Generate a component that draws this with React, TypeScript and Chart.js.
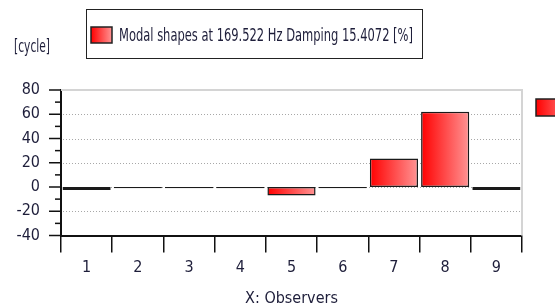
import React, { useEffect, useRef } from "react";
import { Chart, registerables } from "chart.js";

Chart.register(...registerables);

const categories = ["1", "2", "3", "4", "5", "6", "7", "8", "9"];
const values = [-2.5, -1, -1, -1, -7, -1, 23.5, 62, -2.5];
const yMin = -40;
const yMax = 80;
const legendLabel = "Modal shapes at 169.522 Hz Damping 15.4072 [%]";
const yUnit = "[cycle]";
const xTitle = "X: Observers";

const FONT = '"DejaVu Sans Condensed", "Liberation Sans Narrow", "Liberation Sans", sans-serif';
const TEXT = "#1e1e3a";

function redGrad(ctx: CanvasRenderingContext2D, x0: number, x1: number) {
  const g = ctx.createLinearGradient(x0, 0, x1, 0);
  g.addColorStop(0, "#ff0000");
  g.addColorStop(1, "#ff9494");
  return g;
}

function fitText(ctx: CanvasRenderingContext2D, text: string, x: number, y: number, width: number) {
  const w = ctx.measureText(text).width;
  ctx.save();
  ctx.translate(x, y);
  ctx.scale(width / w, 1);
  ctx.fillText(text, 0, 0);
  ctx.restore();
}

const decor = {
  id: "decor",
  beforeDatasetsDraw(chart: any) {
    const { ctx, chartArea } = chart;
    const y = chart.scales.y;
    ctx.save();
    ctx.strokeStyle = "#a8a8a8";
    ctx.lineWidth = 1;
    ctx.setLineDash([1, 2]);
    for (let v = yMin + 20; v < yMax; v += 20) {
      const py = Math.round(y.getPixelForValue(v)) + 0.5;
      ctx.beginPath();
      ctx.moveTo(chartArea.left + 2, py);
      ctx.lineTo(chartArea.right, py);
      ctx.stroke();
    }
    ctx.setLineDash([]);
    ctx.strokeStyle = "#d4d4d4";
    ctx.lineWidth = 2;
    ctx.beginPath();
    ctx.moveTo(chartArea.left, chartArea.top);
    ctx.lineTo(chartArea.right, chartArea.top);
    ctx.lineTo(chartArea.right, chartArea.bottom);
    ctx.stroke();
    ctx.restore();
  },
  afterDraw(chart: any) {
    const { ctx, chartArea } = chart;
    const y = chart.scales.y;
    ctx.save();
    ctx.strokeStyle = "#111";
    ctx.lineWidth = 1.5;
    for (let v = yMin; v <= yMax; v += 10) {
      const py = y.getPixelForValue(v);
      const len = v % 20 === 0 ? 12 : 6;
      ctx.beginPath();
      ctx.moveTo(chartArea.left - len, py);
      ctx.lineTo(chartArea.left, py);
      ctx.stroke();
    }
    ctx.fillStyle = TEXT;
    ctx.font = `18px ${FONT}`;
    ctx.textBaseline = "middle";
    ctx.textAlign = "left";
    fitText(ctx, yUnit, 14, 47, 36);
    ctx.fillStyle = "#ffffff";
    ctx.fillRect(86, 9.5, 337, 50);
    ctx.strokeStyle = "#222";
    ctx.lineWidth = 1;
    ctx.strokeRect(86.5, 9.5, 336, 49);
    ctx.fillStyle = redGrad(ctx, 91, 112);
    ctx.fillRect(91, 27, 21, 16);
    ctx.strokeStyle = "#222";
    ctx.lineWidth = 1.5;
    ctx.strokeRect(91, 27, 21, 16);
    ctx.fillStyle = TEXT;
    fitText(ctx, legendLabel, 119, 36, 294);
    ctx.fillStyle = redGrad(ctx, 536, 575);
    ctx.fillRect(536, 99, 40, 17);
    ctx.strokeStyle = "#222";
    ctx.lineWidth = 1.5;
    ctx.strokeRect(536, 99, 40, 17);
    ctx.restore();
  },
};

export default function App() {
  const ref = useRef<HTMLCanvasElement | null>(null);
  useEffect(() => {
    document.body.style.margin = "0";
    const canvas = ref.current!;
    const chart = new Chart(canvas, {
      type: "bar",
      data: {
        labels: categories,
        datasets: [
          {
            label: legendLabel,
            data: values,
            backgroundColor: (c: any) => {
              const ch = c.chart;
              const xs = ch.scales && ch.scales.x;
              if (!ch.chartArea || !xs) return "#ff4040";
              const cx = xs.getPixelForValue(c.dataIndex);
              const bw = (xs.width / categories.length) * 0.94;
              return redGrad(ch.ctx, cx - bw / 2, cx + bw / 2);
            },
            borderColor: "#1a1a1a",
            borderWidth: 1.5,
            borderSkipped: false,
            categoryPercentage: 1,
            barPercentage: 0.94,
          },
        ],
      },
      options: {
        responsive: false,
        animation: false,
        layout: { padding: { left: 0, right: 33, top: 90, bottom: 0 } },
        plugins: { legend: { display: false }, tooltip: { enabled: false }, title: { display: false } },
        scales: {
          x: {
            type: "category",
            offset: true,
            afterFit: (s: any) => {
              s.height = 72.5;
            },
            grid: {
              offset: true,
              drawOnChartArea: false,
              drawTicks: true,
              tickLength: 17,
              color: "#111",
              lineWidth: 1.5,
            },
            border: { display: true, color: "#111", width: 2 },
            ticks: { color: TEXT, font: { family: FONT, size: 16 }, padding: 6, maxRotation: 0 },
            title: { display: true, text: xTitle, color: TEXT, font: { family: FONT, size: 16 }, padding: { top: 2, bottom: 0 } },
          },
          y: {
            min: yMin,
            max: yMax,
            afterFit: (s: any) => {
              s.width = 61;
            },
            grid: { display: false, drawTicks: false },
            border: { display: true, color: "#111", width: 2 },
            ticks: {
              stepSize: 10,
              autoSkip: false,
              color: TEXT,
              font: { family: FONT, size: 16 },
              padding: 21,
              callback: (v: any) => (Number(v) % 20 === 0 ? String(v) : ""),
            },
          },
        },
      },
      plugins: [decor],
    });
    return () => chart.destroy();
  }, []);
  return (
    <div style={{ width: 555, height: 308 }}>
      <canvas ref={ref} width={555} height={308} style={{ display: "block" }} />
    </div>
  );
}
